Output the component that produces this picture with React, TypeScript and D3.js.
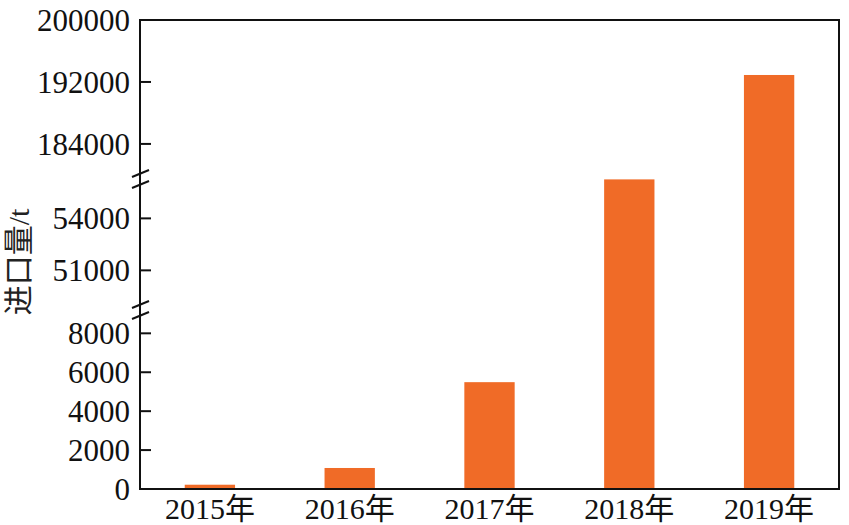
import React from "react";
import * as d3 from "d3";

const categories = ["2015年", "2016年", "2017年", "2018年", "2019年"];
const importValues = [220, 1080, 5490, 56250, 192900];
const bottomTicks = [0, 2000, 4000, 6000, 8000];
const middleTicks = [51000, 54000];
const topTicks = [184000, 192000, 200000];
const bottomDomain = [0, 9250];
const middleDomain = [48770, 56330];
const topDomain = [179600, 200000];
const yLabel = "进口量/t";

const W = 849;
const H = 525;
const left = 140;
const right = 839;
const top = 20;
const bottom = 489;
const break1 = 309; // between bottom and middle
const break2 = 178; // between middle and top

const FONT = "'Liberation Serif', 'Times New Roman', 'Noto Sans CJK SC', serif";
const BAR = "#F06B27";

export default function App() {
  const sBottom = d3.scaleLinear().domain(bottomDomain).range([bottom, break1]);
  const sMiddle = d3.scaleLinear().domain(middleDomain).range([break1, break2]);
  const sTop = d3.scaleLinear().domain(topDomain).range([break2, top]);
  const y = (v: number) => {
    if (v <= bottomDomain[1]) return sBottom(v);
    if (v <= middleDomain[1]) return sMiddle(v);
    return sTop(v);
  };
  const x = d3.scaleBand().domain(categories).range([left, right]).paddingInner(0.64).paddingOuter(0.32);

  const ticks = [
    ...bottomTicks.map((t) => ({ v: t, py: sBottom(t) })),
    ...middleTicks.map((t) => ({ v: t, py: sMiddle(t) })),
    ...topTicks.map((t) => ({ v: t, py: sTop(t) })),
  ];

  const breakMarks = [break1 + 1, break2 + 1];

  return (
    <svg width={W} height={H} style={{ position: "absolute", left: 0, top: 0, background: "#fff" }}>
      <rect x={0} y={0} width={W} height={H} fill="#fff" />
      {categories.map((c, i) => (
        <rect
          key={c}
          x={x(c)}
          width={x.bandwidth()}
          y={y(importValues[i])}
          height={bottom - y(importValues[i])}
          fill={BAR}
        />
      ))}
      {/* frame */}
      <path
        d={`M${left},${top} H${right} V${bottom} H${left} Z`}
        fill="none"
        stroke="#111"
        strokeWidth={2}
      />
      {ticks.map((t) => (
        <g key={t.v}>
          {t.v !== 200000 && t.v !== 0 && (
            <line x1={left} x2={left + 11} y1={t.py} y2={t.py} stroke="#111" strokeWidth={2} />
          )}
          <text
            x={130}
            y={t.py}
            dy="0.35em"
            textAnchor="end"
            fontFamily={FONT}
            fontSize={31}
            fill="#111"
          >
            {t.v}
          </text>
        </g>
      ))}
      {breakMarks.map((b) => (
        <g key={b}>
          {[-5.5, 5.5].map((o) => (
            <line
              key={o}
              x1={left - 8}
              x2={left + 9}
              y1={b + o + 3.5}
              y2={b + o - 3.5}
              stroke="#111"
              strokeWidth={2}
            />
          ))}
        </g>
      ))}
      {categories.map((c) => (
        <text
          key={c}
          x={(x(c) as number) + x.bandwidth() / 2}
          y={519}
          textAnchor="middle"
          fontFamily={FONT}
          fontSize={30}
          fill="#111"
        >
          {c}
        </text>
      ))}
      <text
        transform={`translate(29, 262) rotate(-90)`}
        textAnchor="middle"
        fontFamily={FONT}
        fontSize={30}
        fill="#222"
      >
        {yLabel}
      </text>
    </svg>
  );
}
